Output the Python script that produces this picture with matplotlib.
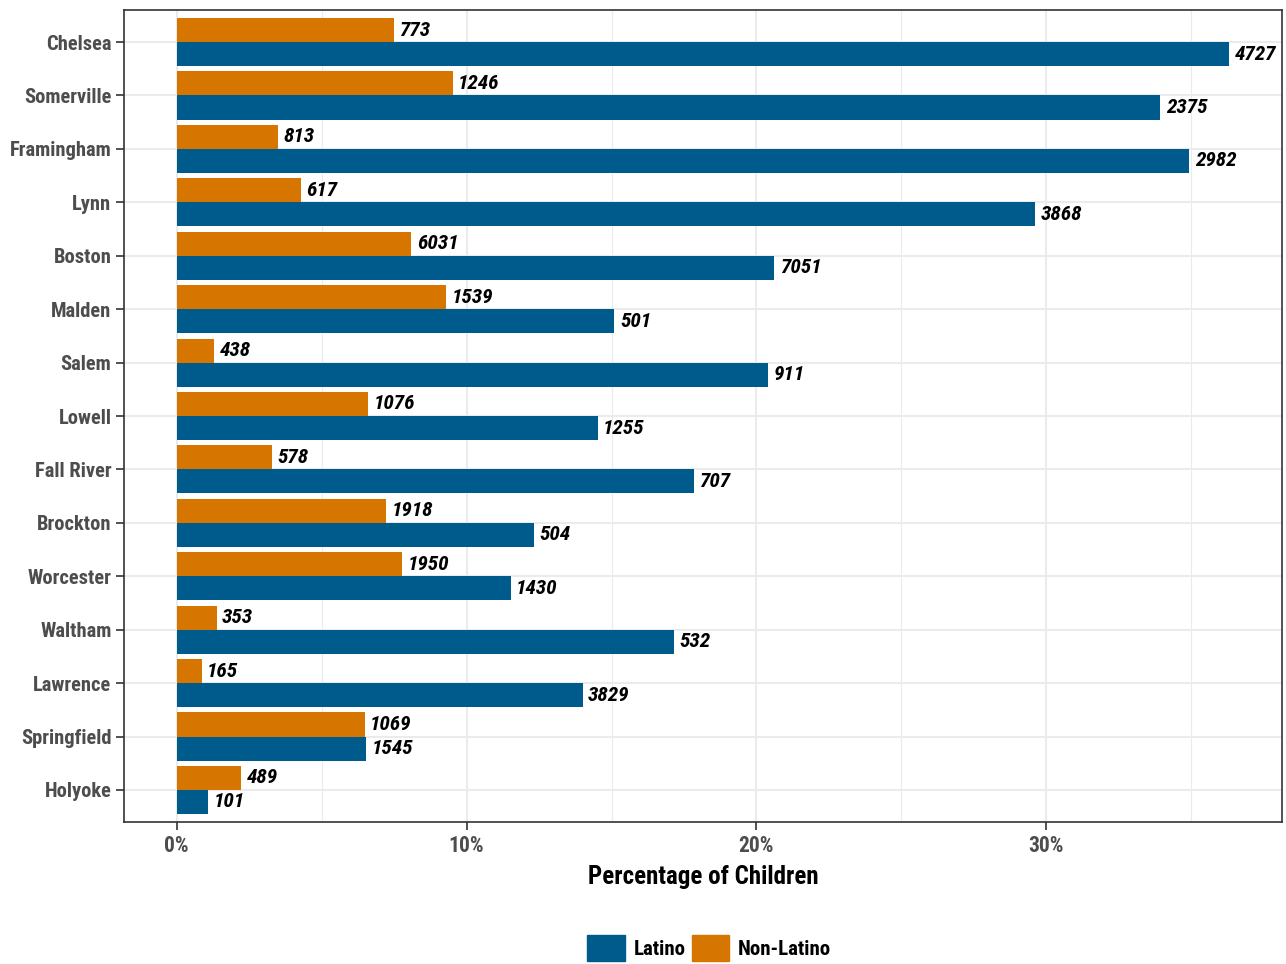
import matplotlib
matplotlib.use("Agg")
import matplotlib.pyplot as plt
from matplotlib import font_manager
from matplotlib.patches import Patch
from matplotlib.ticker import MultipleLocator, FuncFormatter
import numpy as np

cities = ["Chelsea", "Somerville", "Framingham", "Lynn", "Boston", "Malden", "Salem",
          "Lowell", "Fall River", "Brockton", "Worcester", "Waltham", "Lawrence",
          "Springfield", "Holyoke"]
latino_pct = [36.31, 33.93, 34.93, 29.62, 20.62, 15.10, 20.41, 14.52, 17.83, 12.31,
              11.52, 17.14, 14.00, 6.52, 1.07]
nonlatino_pct = [7.48, 9.52, 3.48, 4.28, 8.10, 9.28, 1.28, 6.59, 3.28, 7.21,
                 7.79, 1.38, 0.86, 6.48, 2.21]
latino_n = [4727, 2375, 2982, 3868, 7051, 501, 911, 1255, 707, 504, 1430, 532, 3829, 1545, 101]
nonlatino_n = [773, 1246, 813, 617, 6031, 1539, 438, 1076, 578, 1918, 1950, 353, 165, 1069, 489]

BLUE = "#005b8d"
ORANGE = "#d67500"

# pick a condensed family that has a bold (and ideally bold italic) face
candidates = ["Roboto Condensed", "Fira Sans Condensed", "PT Sans Narrow", "Barlow Condensed",
              "Archivo Narrow", "IBM Plex Sans Condensed", "Encode Sans Condensed",
              "Asap Condensed", "Sofia Sans Condensed", "Pragati Narrow", "Liberation Sans Narrow"]
faces = {}
for f in font_manager.fontManager.ttflist:
    w = f.weight if isinstance(f.weight, int) else 700 if f.weight == "bold" else 400
    faces.setdefault(f.name, set()).add((w >= 700, f.style))
cond = next((c for c in candidates if {(True, "normal"), (True, "italic")} <= faces.get(c, set())), None)
if cond is None:
    cond = next((c for c in candidates if (True, "normal") in faces.get(c, set())), None)
FONT = [cond, "DejaVu Sans"] if cond else ["DejaVu Sans"]
k = 1.0 if cond else 0.85
plt.rcParams["font.family"] = FONT
plt.rcParams["font.weight"] = "bold"

fig = plt.figure(figsize=(12.86, 9.64), dpi=100)
ax = fig.add_axes([124 / 1286, 1 - 822 / 964, 1158 / 1286, 812 / 964])

n = len(cities)
pos = np.arange(n)[::-1]  # Chelsea on top
h = 0.45
ax.barh(pos + h / 2, nonlatino_pct, height=h, color=ORANGE, zorder=3)
ax.barh(pos - h / 2, latino_pct, height=h, color=BLUE, zorder=3)

for y, v, lab in zip(pos, nonlatino_pct, nonlatino_n):
    ax.annotate(str(lab), (v, y + h / 2), xytext=(4, 0), textcoords="offset points",
                va="center", ha="left", fontsize=15.3 * k, style="italic", weight="bold", color="black")
for y, v, lab in zip(pos, latino_pct, latino_n):
    ax.annotate(str(lab), (v, y - h / 2), xytext=(4, 0), textcoords="offset points",
                va="center", ha="left", fontsize=15.3 * k, style="italic", weight="bold", color="black")

xmax = max(latino_pct)
ax.set_xlim(-0.05 * xmax, xmax * 1.05)
ax.set_ylim(-0.6, n - 1 + 0.6)
ax.set_yticks(pos)
ax.set_yticklabels(cities)
ax.xaxis.set_major_locator(MultipleLocator(10))
ax.xaxis.set_minor_locator(MultipleLocator(5))
ax.xaxis.set_major_formatter(FuncFormatter(lambda v, p: f"{v:.0f}%"))
ax.tick_params(axis="both", labelcolor="#4d4d4d", color="#333333",
               length=6, width=1.2, pad=3)
ax.tick_params(axis="y", labelsize=14.8 * k)
ax.tick_params(axis="x", labelsize=15.5 * k)
ax.tick_params(axis="x", which="minor", length=0)
ax.grid(True, which="major", color="#ebebeb", linewidth=1.5, zorder=0)
ax.grid(True, which="minor", axis="x", color="#ebebeb", linewidth=0.8, zorder=0)
ax.set_axisbelow(True)
for s in ax.spines.values():
    s.set_color("#333333")
    s.set_linewidth(1.2)

ax.set_xlabel("Percentage of Children", fontsize=18 * k, weight="bold", color="black", labelpad=6)

handles = [Patch(color=BLUE, label="Latino"), Patch(color=ORANGE, label="Non-Latino")]
fig.legend(handles=handles, loc="center", bbox_to_anchor=(709 / 1286, 1 - 948 / 964), ncol=2,
           frameon=False, fontsize=15 * k, handlelength=1.8, handleheight=1.6,
           columnspacing=0.3, handletextpad=0.4, borderaxespad=0)

fig.savefig("out.png", dpi=100)
